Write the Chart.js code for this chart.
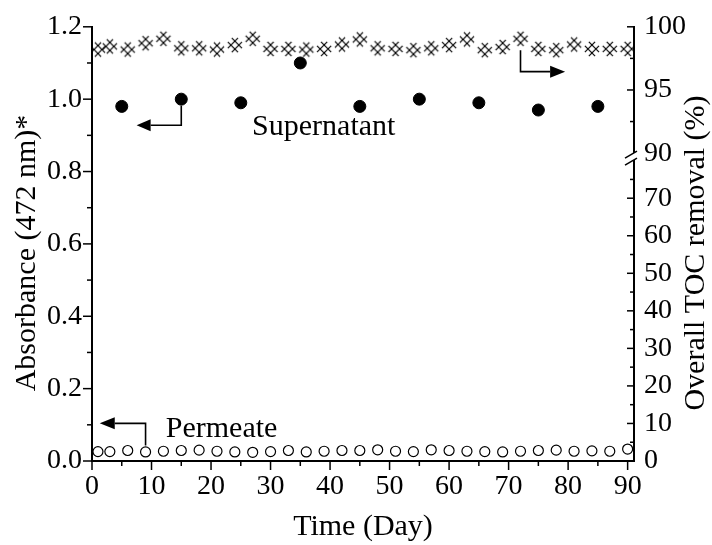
<!DOCTYPE html>
<html lang="en">
<head>
  <meta charset="UTF-8" />
  <title>Absorbance and TOC removal over time</title>
  <script src="https://cdn.jsdelivr.net/npm/chart.js@4"></script>
  <style>
    body { margin: 0; background: #fff; }
    canvas { display: block; }
  </style>
</head>
<body>
  <canvas id="chart" width="712" height="545"></canvas>
  <script>
    // days at which permeate absorbance and TOC removal were measured
    const sampleDays = [1, 3, 6, 9, 12, 15, 18, 21, 24, 27, 30, 33, 36, 39, 42,
      45, 48, 51, 54, 57, 60, 63, 66, 69, 72, 75, 78, 81, 84, 87, 90];
    const permeateAbs = [0.026, 0.026, 0.029, 0.025, 0.027, 0.029, 0.030, 0.027, 0.025, 0.024,
      0.026, 0.029, 0.025, 0.027, 0.029, 0.029, 0.031, 0.027, 0.026, 0.031, 0.029, 0.027,
      0.026, 0.025, 0.027, 0.029, 0.030, 0.027, 0.028, 0.027, 0.033];
    const tocRemoval = [98.2, 98.45, 98.2, 98.7, 99.05, 98.3, 98.3, 98.2, 98.55, 99.05,
      98.25, 98.25, 98.2, 98.25, 98.6, 99.0, 98.3, 98.25, 98.15, 98.3, 98.55, 99.0,
      98.15, 98.4, 99.05, 98.25, 98.15, 98.6, 98.25, 98.25, 98.25];

    const supernatantDays = [5, 15, 25, 35, 45, 55, 65, 75, 85];
    const supernatantAbs = [0.98, 1.0, 0.99, 1.10, 0.98, 1.0, 0.99, 0.97, 0.98];

    const xTicks = [0, 10, 20, 30, 40, 50, 60, 70, 80, 90];
    const xMinorTicks = [5, 15, 25, 35, 45, 55, 65, 75, 85];
    const absTicks = [0, 0.2, 0.4, 0.6, 0.8, 1.0, 1.2];
    const absMinorTicks = [0.1, 0.3, 0.5, 0.7, 0.9, 1.1];
    const tocTicks = [0, 10, 20, 30, 40, 50, 60, 70, 90, 95, 100];
    const tocMinorTicks = [5, 15, 25, 35, 45, 55, 65, 75, 92.5, 97.5];

    // right axis is broken: 0-82 below the break, 90-100 above it
    const TOC_LOW_MAX = 82, TOC_HIGH_MIN = 90, TOC_MAX = 100;
    const BREAK_AT = 0.709;

    const FONT = "'Liberation Serif', 'Times New Roman', serif";
    Chart.defaults.font.family = FONT;
    Chart.defaults.color = '#000';

    class BrokenScale extends Chart.LinearScale {
      static id = 'broken';
      static defaults = {};
      getPixelForValue(v) {
        if (v === null || v === undefined) return NaN;
        let f;
        if (v <= TOC_LOW_MAX) f = v / TOC_LOW_MAX * BREAK_AT;
        else if (v >= TOC_HIGH_MIN) f = BREAK_AT + (v - TOC_HIGH_MIN) / (TOC_MAX - TOC_HIGH_MIN) * (1 - BREAK_AT);
        else f = BREAK_AT;
        return this.getPixelForDecimal(f);
      }
      getValueForPixel(p) {
        const f = this.getDecimalForPixel(p);
        if (f <= BREAK_AT) return f / BREAK_AT * TOC_LOW_MAX;
        return TOC_HIGH_MIN + (f - BREAK_AT) / (1 - BREAK_AT) * (TOC_MAX - TOC_HIGH_MIN);
      }
    }
    Chart.register(BrokenScale);

    // hatched cross marker used for TOC removal
    function makeCrossMark() {
      const c = document.createElement('canvas');
      c.width = 18; c.height = 18;
      const g = c.getContext('2d');
      g.strokeStyle = '#000';
      g.lineWidth = 1.2;
      const m = 9, L = 7.2, o = 2.8, k = Math.SQRT1_2;
      for (const s of [-o, o]) {
        g.beginPath();
        g.moveTo(m + (s - L) * k, m + (-s - L) * k);
        g.lineTo(m + (s + L) * k, m + (-s + L) * k);
        g.moveTo(m + (s - L) * k, m + (s + L) * k);
        g.lineTo(m + (s + L) * k, m + (s - L) * k);
        g.stroke();
      }
      return c;
    }

    function drawArrow(ctx, pts, head = 14, half = 6) {
      const n = pts.length;
      const [tx, ty] = pts[n - 1];
      const [px, py] = pts[n - 2];
      const len = Math.hypot(tx - px, ty - py);
      const ux = (tx - px) / len, uy = (ty - py) / len;
      const bx = tx - ux * head, by = ty - uy * head;
      ctx.beginPath();
      ctx.moveTo(pts[0][0], pts[0][1]);
      for (let i = 1; i < n - 1; i++) ctx.lineTo(pts[i][0], pts[i][1]);
      ctx.lineTo(bx, by);
      ctx.stroke();
      ctx.beginPath();
      ctx.moveTo(tx, ty);
      ctx.lineTo(bx - uy * half, by + ux * half);
      ctx.lineTo(bx + uy * half, by - ux * half);
      ctx.closePath();
      ctx.fill();
    }

    const decor = {
      id: 'decor',
      afterDraw(chart) {
        const { ctx, chartArea: a, scales: { x, y, yToc } } = chart;
        ctx.save();
        ctx.strokeStyle = '#000';
        ctx.fillStyle = '#000';
        ctx.lineWidth = 1.5;
        const seg = (x0, y0, x1, y1) => {
          ctx.beginPath(); ctx.moveTo(x0, y0); ctx.lineTo(x1, y1); ctx.stroke();
        };

        // tick marks: outward on bottom and left, inward on right
        xTicks.forEach(v => { const p = x.getPixelForValue(v); seg(p, a.bottom, p, a.bottom + 9); });
        xMinorTicks.forEach(v => { const p = x.getPixelForValue(v); seg(p, a.bottom, p, a.bottom + 5); });
        absTicks.forEach(v => { const p = y.getPixelForValue(v); seg(a.left - 9, p, a.left, p); });
        absMinorTicks.forEach(v => { const p = y.getPixelForValue(v); seg(a.left - 5, p, a.left, p); });
        tocTicks.filter(v => v !== TOC_HIGH_MIN).forEach(v => {
          const p = yToc.getPixelForValue(v); seg(a.right - 7, p, a.right, p);
        });
        tocMinorTicks.forEach(v => { const p = yToc.getPixelForValue(v); seg(a.right - 4, p, a.right, p); });

        // axis break mark
        const bp = yToc.getPixelForValue(TOC_HIGH_MIN);
        const bx = a.right;
        ctx.fillStyle = '#fff';
        ctx.beginPath();
        ctx.moveTo(bx - 9, bp + 5); ctx.lineTo(bx + 3, bp - 2);
        ctx.lineTo(bx + 3, bp + 5); ctx.lineTo(bx - 9, bp + 12);
        ctx.closePath(); ctx.fill();
        ctx.fillStyle = '#000';
        seg(bx - 9, bp + 5, bx + 3, bp - 2);
        seg(bx - 9, bp + 12, bx + 3, bp + 5);

        // arrows pointing each series to its axis
        ctx.lineWidth = 1.6;
        drawArrow(ctx, [[x.getPixelForValue(15), y.getPixelForValue(0.982)],
          [x.getPixelForValue(15), y.getPixelForValue(0.928)],
          [x.getPixelForValue(7.5), y.getPixelForValue(0.928)]]);
        drawArrow(ctx, [[x.getPixelForValue(9), y.getPixelForValue(0.043)],
          [x.getPixelForValue(9), y.getPixelForValue(0.104)],
          [x.getPixelForValue(1.3), y.getPixelForValue(0.104)]], 15);
        drawArrow(ctx, [[x.getPixelForValue(72), yToc.getPixelForValue(98.15)],
          [x.getPixelForValue(72), yToc.getPixelForValue(96.45)],
          [x.getPixelForValue(79.5), yToc.getPixelForValue(96.45)]], 15);

        ctx.font = '30px ' + FONT;
        ctx.textAlign = 'left';
        ctx.textBaseline = 'alphabetic';
        ctx.fillText('Supernatant', x.getPixelForValue(26.9), y.getPixelForValue(0.9005));
        ctx.fillText('Permeate', x.getPixelForValue(12.4), y.getPixelForValue(0.065));

        // vertical axis titles, both reading bottom to top
        ctx.textAlign = 'center';
        ctx.textBaseline = 'middle';
        ctx.translate(27, 253);
        ctx.rotate(-Math.PI / 2);
        ctx.fillText('Absorbance (472 nm)*', 0, 0);
        ctx.rotate(Math.PI / 2);
        ctx.translate(696 - 27, 0);
        ctx.rotate(-Math.PI / 2);
        ctx.fillText('Overall TOC removal (%)', 0, 0);
        ctx.restore();
      }
    };

    const tickFont = { family: FONT, size: 28 };
    const axisBorder = { display: true, color: '#000', width: 2 };

    new Chart(document.getElementById('chart'), {
      type: 'scatter',
      data: {
        datasets: [
          {
            label: 'Overall TOC removal',
            data: sampleDays.map((d, i) => ({ x: d, y: tocRemoval[i] })),
            yAxisID: 'yToc',
            pointStyle: makeCrossMark(),
            pointRadius: 8
          },
          {
            label: 'Supernatant',
            data: supernatantDays.map((d, i) => ({ x: d, y: supernatantAbs[i] })),
            yAxisID: 'y',
            pointRadius: 6,
            backgroundColor: '#000',
            borderColor: '#000',
            borderWidth: 1
          },
          {
            label: 'Permeate',
            data: sampleDays.map((d, i) => ({ x: d, y: permeateAbs[i] })),
            yAxisID: 'y',
            pointRadius: 5,
            backgroundColor: '#fff',
            borderColor: '#000',
            borderWidth: 1.2
          }
        ]
      },
      options: {
        responsive: false,
        animation: false,
        devicePixelRatio: 1,
        layout: { padding: { top: 20, left: 0, right: 0, bottom: 0 } },
        plugins: { legend: { display: false }, tooltip: { enabled: false } },
        scales: {
          x: {
            type: 'linear',
            position: 'bottom',
            min: 0,
            max: 91.07,
            afterBuildTicks: s => { s.ticks = xTicks.map(v => ({ value: v })); },
            afterFit: s => { s.height = 84; },
            grid: { display: false, drawTicks: false },
            border: axisBorder,
            ticks: { font: tickFont, padding: 9, maxRotation: 0, autoSkip: false },
            title: { display: true, text: 'Time (Day)', font: { family: FONT, size: 30 }, padding: 0 }
          },
          y: {
            type: 'linear',
            position: 'left',
            min: 0,
            max: 1.2,
            afterBuildTicks: s => { s.ticks = absTicks.map(v => ({ value: v })); },
            afterFit: s => { s.width = 92; },
            grid: { display: false, drawTicks: false },
            border: axisBorder,
            ticks: { font: tickFont, padding: 10, callback: v => v.toFixed(1) }
          },
          yToc: {
            type: 'broken',
            position: 'right',
            min: 0,
            max: 100,
            afterBuildTicks: s => { s.ticks = tocTicks.map(v => ({ value: v })); },
            afterFit: s => { s.width = 78; },
            grid: { display: false, drawTicks: false },
            border: axisBorder,
            ticks: { font: tickFont, padding: 10, callback: v => String(v) }
          }
        }
      },
      plugins: [decor]
    });
  </script>
</body>
</html>
